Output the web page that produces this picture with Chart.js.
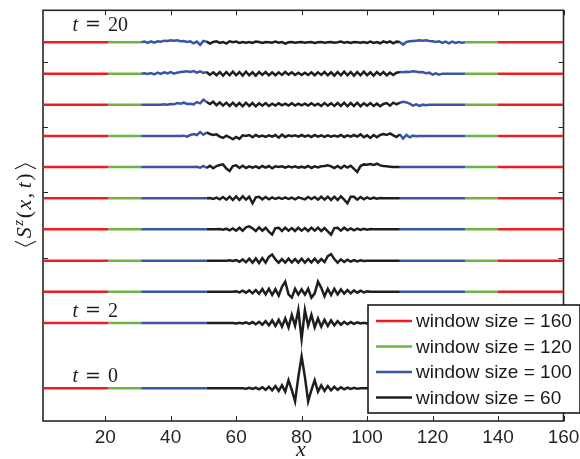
<!DOCTYPE html>
<html>
<head>
<meta charset="utf-8">
<script src="https://cdn.jsdelivr.net/npm/chart.js@4/dist/chart.umd.min.js"></script>
<style>
  html, body { margin: 0; padding: 0; background: #fff; }
  #wrap { width: 580px; height: 459px; position: relative; }
</style>
</head>
<body>
<div id="wrap"><canvas id="spinChart"></canvas></div>
<script>
// lattice sites 1..160, excitation starts at site 80
const xTicks = [20, 40, 60, 80, 100, 120, 140, 160];
const yTicks = [0, 20, 40, 60, 80, 100];
const times = [0, 2, 4, 6, 8, 10, 12, 14, 16, 18, 20];
const offsets = [0, 20, 29.6, 39.1, 48.7, 58.2, 67.8, 77.3, 86.9, 96.4, 106];

const windowSizes = [160, 120, 100, 60];
const windowColors = ['#ed1c24', '#6cb342', '#3b55a5', '#1e1e1e'];
const windowLabels = ['window size = 160', 'window size = 120', 'window size = 100', 'window size = 60'];

// <S^z> deviations on sites 31..130 (outside that range the profile is flat)
const devStart = 31;
const dev0 = [
  0, 0, 0, 0, 0, 0, 0, 0, 0, 0,
  0, 0, 0, 0, 0, 0, 0, 0, 0, 0,
  0, 0, 0, 0, 0, 0, 0, 0, 0, 0,
  0, 0, -0.1, 0.15, -0.2, 0.25, -0.3, 0.35, -0.45, 0.5,
  -0.6, 0.7, -0.8, 0.9, -1, 2.5, -0.5, -4, 3.5, 9.8,
  3.5, -4, -0.5, 2.5, -1, 0.9, -0.8, 0.7, -0.6, 0.5,
  -0.45, 0.35, -0.3, 0.25, -0.2, 0.15, -0.1, 0, 0, 0,
  0, 0, 0, 0, 0, 0, 0, 0, 0, 0,
  0, 0, 0, 0, 0, 0, 0, 0, 0, 0,
  0, 0, 0, 0, 0, 0, 0, 0, 0, 0
];
const dev2 = [
  0, 0, 0, 0, 0, 0, 0, 0, 0, 0,
  0, 0, 0, 0, 0, 0, 0, 0, 0, 0,
  0, 0, 0, 0, 0, 0, 0, 0, 0, -0.1,
  0.1, -0.15, 0.2, -0.25, 0.3, -0.35, 0.4, -0.5, 0.6, -0.7,
  0.8, -0.9, 1.0, -1.1, 1.4, -1.3, 2.5, -0.8, 4, -4.9,
  4, -0.8, 2.5, -1.3, 1.4, -1.1, 1.0, -0.9, 0.8, -0.7,
  0.6, -0.5, 0.4, -0.35, 0.3, -0.25, 0.2, -0.15, 0.1, -0.1,
  0, 0, 0, 0, 0, 0, 0, 0, 0, 0,
  0, 0, 0, 0, 0, 0, 0, 0, 0, 0,
  0, 0, 0, 0, 0, 0, 0, 0, 0, 0
];
const dev4 = [
  0, 0, 0, 0, 0, 0, 0, 0, 0, 0,
  0, 0, 0, 0, 0, 0, 0, 0, 0, 0,
  0, 0, 0, 0, 0, 0, 0, 0, 0, 0.1,
  -0.2, 0.3, -0.3, 0.4, -0.5, 0.5, -0.6, 0.8, -0.8, 0.9,
  -1, 0.8, -1.2, 1.5, 3.1, -0.8, -1.8, 0.9, -0.9, 0.7,
  -0.9, 0.9, -1.8, -0.5, 3.1, 1.2, -1.4, 0.9, -1, 0.9,
  -0.8, 0.7, -0.6, 0.5, -0.5, 0.4, -0.3, 0.3, -0.2, 0.1,
  0, 0, 0, 0, 0, 0, 0, 0, 0, 0,
  0, 0, 0, 0, 0, 0, 0, 0, 0, 0,
  0, 0, 0, 0, 0, 0, 0, 0, 0, 0
];
const dev6 = [
  0, 0, 0, 0, 0, 0, 0, 0, 0, 0,
  0, 0, 0, 0, 0, 0, 0, 0, 0, 0,
  0, 0, 0, 0, 0, 0, 0, 0.1, -0.1, 0.2,
  -0.3, 0.4, -0.5, 0.6, -0.6, 0.7, -0.7, 0.8, -0.6, 1.2,
  1.9, 0.4, -0.6, 0.5, -0.6, 0.6, -0.5, 0.5, -0.6, 0.6,
  -0.6, 0.5, -0.5, 0.6, -0.6, 0.5, -0.4, 1.4, 2.0, 0.5,
  -0.6, 0.4, -0.4, 0.3, -0.3, 0.2, -0.2, 0.1, -0.1, 0,
  0, 0, 0, 0, 0, 0, 0, 0, 0, 0,
  0, 0, 0, 0, 0, 0, 0, 0, 0, 0,
  0, 0, 0, 0, 0, 0, 0, 0, 0, 0
];
const dev8 = [
  0, 0, 0, 0, 0, 0, 0, 0, 0, 0,
  0, 0, 0, 0, 0, 0, 0, 0, 0, 0,
  0, 0, 0, 0, 0.1, -0.1, 0.2, -0.3, 0.3, -0.4,
  0.5, -0.4, 0.6, 0.9, 0.3, -0.5, 0.6, -0.4, 0.5, -0.7,
  -1.6, 0.4, 0.5, -0.5, 0.5, -0.4, 0.4, -0.5, 0.5, -0.4,
  0.4, -0.5, 0.5, -0.4, 0.5, -0.5, 0.4, -0.6, -1.6, 0.4,
  0.5, -0.4, 0.5, -0.3, 0.3, -0.3, 0.2, -0.2, 0.15, -0.1,
  0.1, 0, 0, 0, 0, 0, 0, 0, 0, 0,
  0, 0, 0, 0, 0, 0, 0, 0, 0, 0,
  0, 0, 0, 0, 0, 0, 0, 0, 0, 0
];
const dev10 = [
  0, 0, 0, 0, 0, 0, 0, 0, 0, 0,
  0, 0, 0, 0, 0, 0, 0, 0, 0, 0,
  0, 0.1, -0.2, 0.2, -0.3, 0.4, -0.4, 0.5, -0.5, 0.6,
  -0.5, 0.6, -0.4, 0.5, -1.5, 0.3, 0.5, -0.3, 0.4, -0.3,
  0.3, -0.2, 0.2, -0.2, 0.3, -0.2, 0.2, -0.3, 0.3, 0,
  -0.3, 0.4, -0.2, 0.4, -0.4, 0.5, -0.4, 0.5, -0.5, 0.5,
  -0.5, 0.6, -0.4, -1.5, 0.5, 0.5, -0.4, 0.4, -0.3, 0.3,
  -0.2, 0.2, -0.1, 0.1, 0, 0, 0, 0, 0, 0,
  0, 0, 0, 0, 0, 0, 0, 0, 0, 0,
  0, 0, 0, 0, 0, 0, 0, 0, 0, 0
];
const dev12 = [
  0, 0, 0, 0, 0, 0, 0, 0, 0, 0,
  0, 0, 0, 0, 0, 0, 0, 0.1, -0.2, 0.3,
  -0.3, 0.4, -0.4, 0.3, 0.6, 0.8, -0.5, -1.2, 0.3, 0.5,
  -0.3, 0.4, -0.3, 0.2, -0.2, 0.2, -0.3, 0.3, -0.2, 0.3,
  -0.4, 0.2, 0, 0.2, -0.2, 0.2, -0.1, 0.2, -0.2, 0.1,
  -0.2, 0.3, -0.3, 0.2, -0.1, 0.2, 0.3, 0.5, 0.2, -0.3,
  0.3, -0.4, 0.4, -0.2, 0.4, -0.6, -1.5, 0.3, 0.8, 0.7,
  0.9, 0.6, 1.0, 0.5, 0.3, 0.2, 0.1, 0, 0, 0,
  0, 0, 0, 0, 0, 0, 0, 0, 0, 0,
  0, 0, 0, 0, 0, 0, 0, 0, 0, 0
];
const dev14 = [
  0, 0, 0, 0, 0, 0, 0, 0, 0, 0,
  0, 0, 0, 0.1, -0.2, 0.3, 0.6, 0.3, 1.2, 0.4,
  1.1, 0.6, 0.3, 0.5, -0.2, -0.6, 0.1, -0.4, -1.0, -0.3,
  -0.9, 0.2, 0, 0.3, -0.4, 0.3, -0.2, 0.1, -0.3, 0.2,
  -0.2, 0.3, -0.5, 0.4, -0.3, 0.2, -0.1, 0.2, -0.2, 0.3,
  -0.2, 0.2, -0.3, 0.3, -0.2, 0.2, -0.3, 0.2, -0.2, 0.1,
  -0.2, 0.3, -0.3, 0.2, -0.2, 0.3, -0.2, 0.5, -0.4, 0.2,
  -0.6, 0.3, -0.4, 0.3, 0.6, 0.3, 0.8, 0.2, -0.3, 0.5,
  -0.8, 0.3, -0.4, 0.1, -0.1, 0, 0, 0, 0, 0,
  0, 0, 0, 0, 0, 0, 0, 0, 0, 0
];
const dev16 = [
  0, 0, 0, 0, 0, 0, 0, 0.1, 0, 0.2,
  0.1, 0.5, 0.3, 0.6, 0.2, 0.3, 0.1, 0.8, 0.4, 1.5,
  0.8, 0.2, 0.9, -0.2, 0.7, -0.3, 0.6, -0.4, 0.6, -0.4,
  0.5, -0.5, 0.6, -0.4, 0.5, -0.5, 0.4, -0.3, 0.5, -0.4,
  0.3, -0.3, 0.4, -0.2, 0.3, -0.3, 0.4, -0.3, 0.3, -0.2,
  0.3, -0.3, 0.4, -0.3, 0.3, -0.4, 0.5, -0.3, 0.4, -0.4,
  0.5, -0.4, 0.6, -0.5, 0.5, -0.4, 0.6, -0.5, 0.4, -0.3,
  0.5, -0.4, 0.3, -0.5, 0.2, 0.5, -0.3, 0.6, 0.1, 0.6,
  0.9, 0.7, 0.3, -0.3, 0.1, -0.4, 0, -0.2, 0, 0,
  0, 0, 0, 0, 0, 0, 0, 0, 0, 0
];
const dev18 = [
  0, 0.1, -0.1, 0.2, -0.2, 0.3, -0.1, 0.4, 0.1, 0.5,
  0, 0.3, 0.5, 0.6, 0.7, 0.5, 0.8, 0.3, 0.7, 0.2,
  0.5, -0.4, 0.4, -0.5, 0.5, -0.6, 0.5, -0.5, 0.6, -0.5,
  0.5, -0.6, 0.6, -0.5, 0.4, -0.6, 0.5, -0.4, 0.5, -0.5,
  0.4, -0.5, 0.4, -0.4, 0.5, -0.3, 0.4, -0.4, 0.3, -0.4,
  0.3, -0.4, 0.4, -0.5, 0.4, -0.4, 0.5, -0.5, 0.4, -0.6,
  0.5, -0.5, 0.6, -0.5, 0.5, -0.6, 0.5, -0.5, 0.6, -0.5,
  0.4, -0.6, 0.5, -0.4, 0.5, -0.5, 0.3, -0.4, 0.3, 0.5,
  0.4, 0.6, 0.5, 0.7, 0.6, 0.4, 0.5, 0.1, 0.3, -0.3,
  0.1, -0.3, 0, 0, 0, 0, 0, 0, 0, 0
];
const dev20 = [
  0, 0.2, -0.2, 0.3, -0.1, 0.3, 0.2, 0.5, 0.4, 0.6,
  0.5, 0.6, 0.3, 0.4, 0.1, 0.3, -0.3, 0.2, -0.8, 0.4,
  0.2, -0.4, 0.1, 0.3, -0.2, 0.1, -0.4, 0.3, 0, 0.2,
  -0.2, 0.1, -0.1, 0.1, -0.2, 0.2, 0.1, -0.2, 0.1, 0,
  -0.1, 0.2, -0.1, 0.1, -0.4, 0, 0.1, -0.1, 0, 0.1,
  -0.1, 0, 0.1, -0.2, 0, 0.1, -0.1, 0, 0.1, -0.1,
  0, 0.2, -0.1, 0.1, -0.2, 0.1, 0, -0.1, 0.1, -0.2,
  0.2, -0.2, 0.1, -0.3, 0.3, -0.1, 0.3, -0.3, 0.2, 0.1,
  -0.7, 0.1, 0.3, 0.4, 0.5, 0.6, 0.5, 0.6, 0.4, 0.3,
  0.1, 0.3, -0.2, 0.2, -0.3, 0.2, -0.2, 0.1, -0.1, 0
];
const devs = [dev0, dev2, dev4, dev6, dev8, dev10, dev12, dev14, dev16, dev18, dev20];

function level(k, x) {
  const d = devs[k];
  const i = x - devStart;
  return offsets[k] + (i >= 0 && i < d.length ? d[i] : 0);
}

function sites(k, a, b) {
  const pts = [];
  for (let x = a; x <= b; x++) pts.push({ x: x, y: level(k, x) });
  return pts;
}

// each window is centred on the excitation; only the part not covered
// by the next smaller window gets its own colour
const lo = windowSizes.map(w => 81 - w / 2);
const hi = windowSizes.map(w => 80 + w / 2);

const datasets = [];
windowSizes.forEach((w, i) => {
  times.forEach((t, k) => {
    let data;
    if (i < windowSizes.length - 1) {
      data = sites(k, lo[i], lo[i + 1])
        .concat([{ x: 80.5, y: null }])
        .concat(sites(k, hi[i + 1], hi[i]));
    } else {
      data = sites(k, lo[i], hi[i]);
    }
    datasets.push({
      label: windowLabels[i],
      data: data,
      borderColor: windowColors[i],
      borderWidth: 2.5,
      pointRadius: 0,
      tension: 0,
      order: windowSizes.length - i
    });
  });
});

const frame = {
  id: 'frame',
  beforeDatasetsDraw(chart) {
    const { ctx, chartArea: a, scales: { x, y } } = chart;
    ctx.save();
    ctx.strokeStyle = '#262626';
    ctx.lineWidth = 1;
    ctx.beginPath();
    xTicks.forEach(v => {
      const px = Math.round(x.getPixelForValue(v)) + 0.5;
      ctx.moveTo(px, a.bottom); ctx.lineTo(px, a.bottom - 5);
      ctx.moveTo(px, a.top); ctx.lineTo(px, a.top + 5);
    });
    yTicks.forEach(v => {
      const py = Math.round(y.getPixelForValue(v)) + 0.5;
      ctx.moveTo(a.left, py); ctx.lineTo(a.left + 5, py);
      ctx.moveTo(a.right, py); ctx.lineTo(a.right - 5, py);
    });
    ctx.stroke();
    ctx.lineWidth = 1.6;
    ctx.strokeRect(a.left, a.top, a.right - a.left, a.bottom - a.top);
    ctx.restore();
  },
  afterDraw(chart) {
    const { ctx, scales: { x, y } } = chart;
    ctx.save();

    // time tags above the t = 20, 2 and 0 profiles
    const tags = [{ k: 10, gap: 11.6 }, { k: 1, gap: 6.4 }, { k: 0, gap: 6 }];
    ctx.fillStyle = '#1a1a1a';
    ctx.textBaseline = 'alphabetic';
    ctx.textAlign = 'left';
    tags.forEach(tag => {
      const x0 = x.getPixelForValue(10);
      const by = y.getPixelForValue(offsets[tag.k]) - tag.gap;
      ctx.font = 'italic 20px "Liberation Serif"';
      ctx.fillText('t', x0, by);
      ctx.font = '19px "DejaVu Serif"';
      ctx.fillText('=', x0 + 12.5, by - 0.5);
      ctx.font = '20px "Liberation Serif"';
      ctx.fillText(String(times[tag.k]), x0 + 35.5, by);
    });

    // legend
    const lx = 368, ly = 305, lw = 212, lh = 108;
    ctx.fillStyle = '#fff';
    ctx.fillRect(lx, ly, lw, lh);
    ctx.strokeStyle = '#1a1a1a';
    ctx.lineWidth = 1.6;
    ctx.strokeRect(lx, ly, lw, lh);
    ctx.font = '19px "Liberation Sans"';
    ctx.textBaseline = 'middle';
    windowLabels.forEach((lab, i) => {
      const ry = 321 + i * 25.5;
      ctx.strokeStyle = windowColors[i];
      ctx.lineWidth = 2.5;
      ctx.beginPath();
      ctx.moveTo(376, ry); ctx.lineTo(412, ry);
      ctx.stroke();
      ctx.fillStyle = '#1a1a1a';
      ctx.fillText(lab, 416, ry + 1);
    });

    // x axis title
    ctx.textBaseline = 'alphabetic';
    ctx.textAlign = 'center';
    ctx.font = 'italic 22px "Liberation Serif"';
    ctx.fillStyle = '#1a1a1a';
    ctx.fillText('x', 301, 456);

    // y axis title <S^z(x,t)>, rotated
    ctx.translate(31, 205);
    ctx.rotate(-Math.PI / 2);
    const parts = [
      { s: 'S', f: 'italic 22px "Liberation Serif"', dy: 0 },
      { s: 'z', f: 'italic 15px "Liberation Serif"', dy: -8 },
      { s: '(', f: '22px "Liberation Serif"', dy: 0 },
      { s: 'x', f: 'italic 22px "Liberation Serif"', dy: 0 },
      { s: ',', f: '22px "Liberation Serif"', dy: 0, pad: 3 },
      { s: 't', f: 'italic 22px "Liberation Serif"', dy: 0 },
      { s: ')', f: '22px "Liberation Serif"', dy: 0 }
    ];
    const brW = 7, sp = 1.5;
    let total = brW * 2 + 4;
    parts.forEach(p => { ctx.font = p.f; total += ctx.measureText(p.s).width + sp + (p.pad || 0); });
    let cx = -total / 2;
    ctx.strokeStyle = '#1a1a1a';
    ctx.lineWidth = 1.1;
    ctx.beginPath();
    ctx.moveTo(cx + 6, -16); ctx.lineTo(cx + 1, -5.5); ctx.lineTo(cx + 6, 5);
    ctx.stroke();
    cx += brW + 2;
    ctx.textAlign = 'left';
    parts.forEach(p => {
      ctx.font = p.f;
      ctx.fillText(p.s, cx, p.dy);
      cx += ctx.measureText(p.s).width + sp + (p.pad || 0);
    });
    cx += 2;
    ctx.beginPath();
    ctx.moveTo(cx + 1, -16); ctx.lineTo(cx + 6, -5.5); ctx.lineTo(cx + 1, 5);
    ctx.stroke();

    ctx.restore();
  }
};

new Chart(document.getElementById('spinChart'), {
  type: 'line',
  data: { datasets: datasets },
  options: {
    responsive: true,
    maintainAspectRatio: false,
    animation: false,
    events: [],
    layout: { padding: { left: 43, right: 16.5, top: 10.3, bottom: 0 } },
    plugins: { legend: { display: false }, tooltip: { enabled: false } },
    scales: {
      x: {
        type: 'linear',
        min: 1,
        max: 160,
        afterBuildTicks: s => { s.ticks = xTicks.map(v => ({ value: v })); },
        afterFit: s => { s.height = 38; s.paddingLeft = 0; s.paddingRight = 0; },
        grid: { display: false, drawTicks: false },
        border: { display: false },
        ticks: { color: '#262626', padding: 5, maxRotation: 0, font: { family: 'Liberation Sans', size: 19 } }
      },
      y: {
        type: 'linear',
        min: -10,
        max: 115.8,
        display: false
      }
    }
  },
  plugins: [frame]
});
</script>
</body>
</html>
